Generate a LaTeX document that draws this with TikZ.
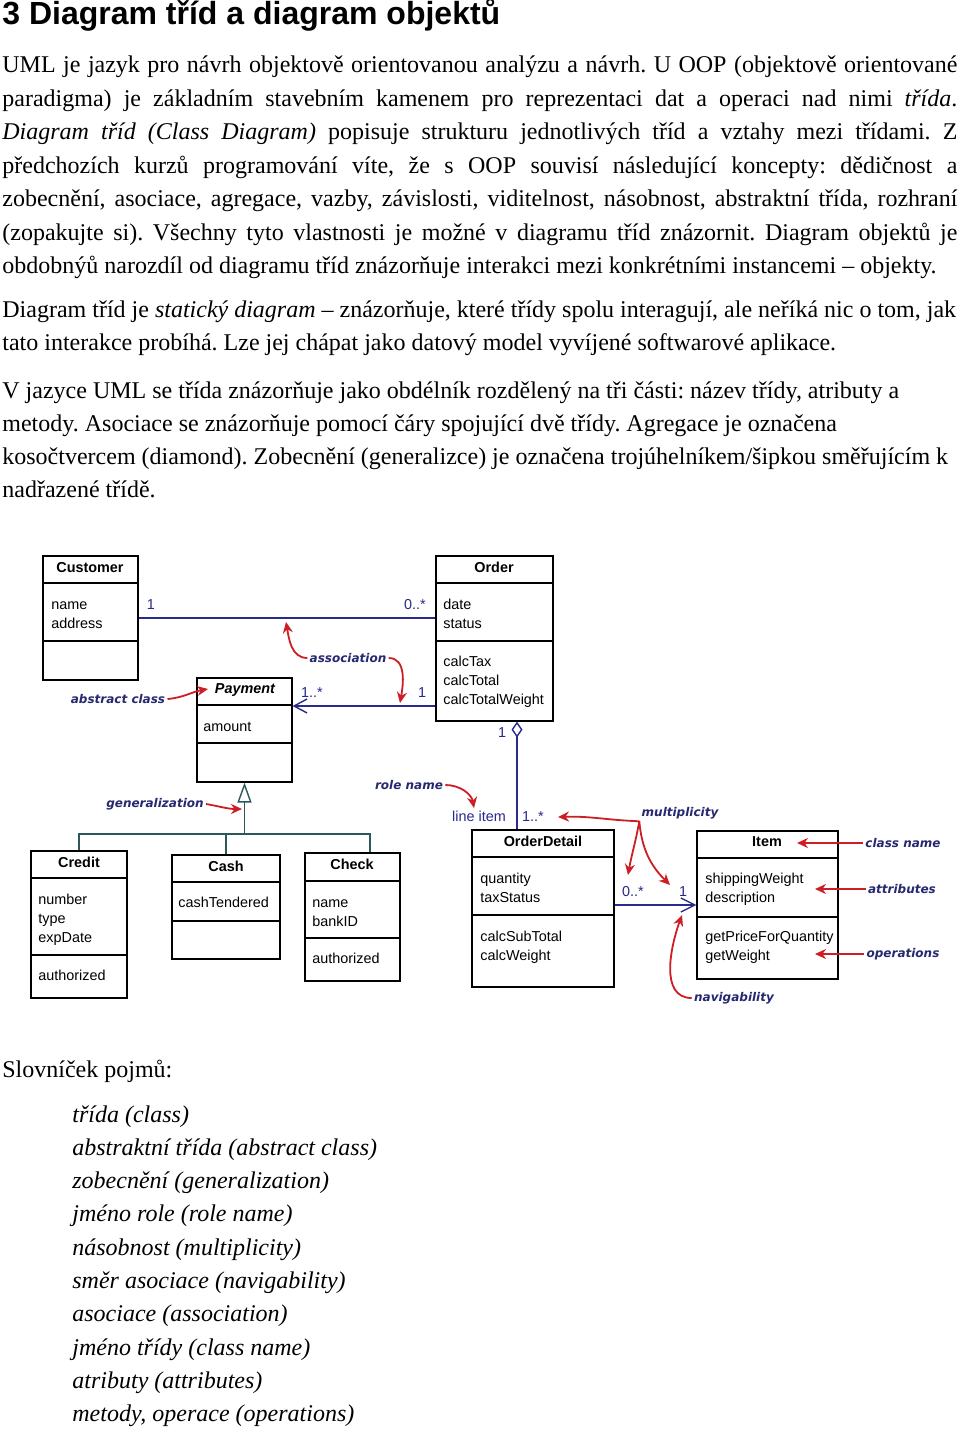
\documentclass[tikz,border=0pt]{standalone}
\usepackage{fontspec}
\setmainfont{Liberation Serif}
\newfontfamily\umlfont{Liberation Sans}
\newfontfamily\notefont{DejaVu Sans}
\usetikzlibrary{arrows.meta,fit}
\frenchspacing

\definecolor{umlblue}{RGB}{40,42,140}
\definecolor{notenavy}{RGB}{38,40,112}
\definecolor{notered}{RGB}{204,30,36}
\definecolor{genteal}{RGB}{45,88,88}

% one justified line of the running text
\newcommand\fullline[1]{\hbox to 477.5pt{#1}}

\tikzset{
  body/.style={font=\fontsize{12}{16.5}\selectfont, anchor=base west, inner sep=0pt},
  gloss/.style={body, font=\fontsize{12}{16.5}\selectfont\itshape},
  classbox/.style={draw, line width=0.6pt, inner sep=0pt},
  boxline/.style={line width=0.6pt},
  member/.style={font=\umlfont\fontsize{7.2}{9}\selectfont, anchor=base west, inner sep=0pt},
  classname/.style={font=\umlfont\bfseries\fontsize{7.2}{9}\selectfont, anchor=base, inner sep=0pt},
  mult/.style={member, anchor=base, text=umlblue},
  note/.style={font=\notefont\bfseries\itshape\fontsize{6}{7}\selectfont, text=notenavy, inner sep=1pt},
  notearrow/.style={draw=notered, line width=0.9pt, -{Stealth[length=5.5pt,width=5pt]}},
  assoc/.style={draw=umlblue, line width=0.7pt},
  genline/.style={draw=genteal, line width=0.7pt}
}

\begin{document}
\begin{tikzpicture}[x=0.5pt,y=-0.5pt]
\fill[white] (0,0) rectangle (960,1429);
\useasboundingbox (0,0) rectangle (960,1429);

% heading and text
\node[anchor=base west, inner sep=0pt, font=\umlfont\bfseries\fontsize{16}{19}\selectfont] (title) at (2,25) {3 Diagram tříd a diagram objektů};
\node[body] (p1-1) at (2,73) {\fullline{UML je jazyk pro návrh objektově orientovanou analýzu a návrh. U OOP (objektově orientované}};
\node[body] (p1-2) at (2,106) {\fullline{paradigma) je základním stavebním kamenem pro reprezentaci dat a operaci nad nimi \textit{třída}.}};
\node[body] (p1-3) at (2,140) {\fullline{\textit{Diagram tříd (Class Diagram)} popisuje strukturu jednotlivých tříd a vztahy mezi třídami. Z}};
\node[body] (p1-4) at (2,173) {\fullline{předchozích kurzů programování víte, že s OOP souvisí následující koncepty: dědičnost a}};
\node[body] (p1-5) at (2,206) {\fullline{zobecnění, asociace, agregace, vazby, závislosti, viditelnost, násobnost, abstraktní třída, rozhraní}};
\node[body] (p1-6) at (2,240) {\fullline{(zopakujte si). Všechny tyto vlastnosti je možné v diagramu tříd znázornit. Diagram objektů je}};
\node[body] (p1-7) at (2,273) {obdobnýů narozdíl od diagramu tříd znázorňuje interakci mezi konkrétními instancemi – objekty.};
\node[body] (p2-1) at (2,317) {Diagram tříd je \textit{statický diagram} – znázorňuje, které třídy spolu interagují, ale neříká nic o tom, jak};
\node[body] (p2-2) at (2,350) {tato interakce probíhá. Lze jej chápat jako datový model vyvíjené softwarové aplikace.};
\node[body] (p3-1) at (2,398) {V jazyce UML se třída znázorňuje jako obdélník rozdělený na tři části: název třídy, atributy a};
\node[body] (p3-2) at (2,431) {metody. Asociace se znázorňuje pomocí čáry spojující dvě třídy. Agregace je označena};
\node[body] (p3-3) at (2,464) {kosočtvercem (diamond). Zobecnění (generalizce) je označena trojúhelníkem/šipkou směřujícím k};
\node[body] (p3-4) at (2,497) {nadřazené třídě.};

% classes
\node[classbox, fit={(43,556) (138,680)}] (customer) {};
\draw[boxline] (customer.west |- 0,583) -- (customer.east |- 0,583);
\draw[boxline] (customer.west |- 0,641) -- (customer.east |- 0,641);
\node[classname] (customer-title) at (90,572) {Customer};
\node[member] (customer-name) at (51,609) {name};
\node[member] (customer-address) at (51,628) {address};

\node[classbox, fit={(436,556) (553,721)}] (order) {};
\draw[boxline] (order.west |- 0,583) -- (order.east |- 0,583);
\draw[boxline] (order.west |- 0,641) -- (order.east |- 0,641);
\node[classname] (order-title) at (494,572) {Order};
\node[member] (order-date) at (443,609) {date};
\node[member] (order-status) at (443,628) {status};
\node[member] (order-tax) at (443,666) {calcTax};
\node[member] (order-total) at (443,685) {calcTotal};
\node[member] (order-weight) at (443,704) {calcTotalWeight};

\node[classbox, fit={(197,678) (292,782)}] (payment) {};
\draw[boxline] (payment.west |- 0,705) -- (payment.east |- 0,705);
\draw[boxline] (payment.west |- 0,743) -- (payment.east |- 0,743);
\node[classname, font=\umlfont\bfseries\itshape\fontsize{7.2}{9}\selectfont] (payment-title) at (245,693) {Payment};
\node[member] (payment-amount) at (203,731) {amount};

\node[classbox, fit={(31,851) (127,998)}] (credit) {};
\draw[boxline] (credit.west |- 0,878) -- (credit.east |- 0,878);
\draw[boxline] (credit.west |- 0,955) -- (credit.east |- 0,955);
\node[classname] (credit-title) at (79,867) {Credit};
\node[member] (credit-number) at (38,904) {number};
\node[member] (credit-type) at (38,923) {type};
\node[member] (credit-date) at (38,942) {expDate};
\node[member] (credit-auth) at (38,980) {authorized};

\node[classbox, fit={(172,855) (280,959)}] (cash) {};
\draw[boxline] (cash.west |- 0,882) -- (cash.east |- 0,882);
\draw[boxline] (cash.west |- 0,921) -- (cash.east |- 0,921);
\node[classname] (cash-title) at (226,871) {Cash};
\node[member] (cash-tendered) at (178,907) {cashTendered};

\node[classbox, fit={(305,853) (400,981)}] (check) {};
\draw[boxline] (check.west |- 0,881) -- (check.east |- 0,881);
\draw[boxline] (check.west |- 0,938) -- (check.east |- 0,938);
\node[classname] (check-title) at (352,869) {Check};
\node[member] (check-name) at (312,907) {name};
\node[member] (check-bank) at (312,926) {bankID};
\node[member] (check-auth) at (312,963) {authorized};

\node[classbox, fit={(472,830) (614,987)}] (orderdetail) {};
\draw[boxline] (orderdetail.west |- 0,857) -- (orderdetail.east |- 0,857);
\draw[boxline] (orderdetail.west |- 0,915) -- (orderdetail.east |- 0,915);
\node[classname] (orderdetail-title) at (543,846) {OrderDetail};
\node[member] (orderdetail-qty) at (480,883) {quantity};
\node[member] (orderdetail-tax) at (480,902) {taxStatus};
\node[member] (orderdetail-sub) at (480,941) {calcSubTotal};
\node[member] (orderdetail-weight) at (480,960) {calcWeight};

\node[classbox, fit={(697,831) (838,979)}] (item) {};
\draw[boxline] (item.west |- 0,858) -- (item.east |- 0,858);
\draw[boxline] (item.west |- 0,917) -- (item.east |- 0,917);
\node[classname] (item-title) at (767,846) {Item};
\node[member] (item-ship) at (705,883) {shippingWeight};
\node[member] (item-desc) at (705,902) {description};
\node[member] (item-price) at (705,941) {getPriceForQuantity};
\node[member] (item-weight) at (705,960) {getWeight};

% associations
\coordinate (payorder) at (0,706);
\coordinate (agg) at (517,0);
\draw[assoc] (customer.east) -- (order.west |- customer.east);
\draw[assoc, -{Straight Barb[length=6.5pt,width=7pt]}] (order.west |- payorder) -- (payment.east |- payorder);
\draw[assoc, {Diamond[open,length=8pt,width=5.5pt]}-] (order.south -| agg) -- (orderdetail.north -| agg);
\draw[assoc, -{Straight Barb[length=7pt,width=7pt]}] (orderdetail.east |- item.west) -- (item.west);

% generalization
\coordinate (gjoin) at (payment.south |- 0,834);
\coordinate (checkjoin) at (370,834);
\draw[genline, -{Triangle[open,length=10pt,width=7pt]}] (gjoin) -- (payment.south);
\draw[genline] (credit.north) -- (credit.north |- gjoin) -- (checkjoin) -- (check.north -| checkjoin);
\draw[genline] (cash.north) -- (cash.north |- gjoin);

% multiplicities and role
\node[mult] (m-customer) at (151,609) {1};
\node[mult] (m-order) at (415,609) {0..*};
\node[mult] (m-payment) at (312,697) {1..*};
\node[mult] (m-order2) at (422,697) {1};
\node[mult] (m-agg) at (502,737) {1};
\node[mult] (role) at (479,821) {line item};
\node[mult] (m-detail) at (533,821) {1..*};
\node[mult] (m-detail2) at (633,896) {0..*};
\node[mult] (m-item) at (683,896) {1};

% notes
\node[note] (n-assoc) at (348,658) {association};
\node[note] (n-abstract) at (118,699) {abstract class};
\node[note] (n-general) at (155,804) {generalization};
\node[note] (n-role) at (409,785) {role name};
\node[note] (n-mult) at (680,813) {multiplicity};
\node[note] (n-classname) at (903,843) {class name};
\node[note] (n-attr) at (902,889) {attributes};
\node[note] (n-oper) at (903,954) {operations};
\node[note] (n-nav) at (734,998) {navigability};

\coordinate (t-assoc1) at (286,622);
\coordinate (t-assoc2) at (400,703);
\coordinate (t-abstract) at (208,689);
\coordinate (t-general) at (242,809);
\coordinate (t-role) at (474,808);
\coordinate (t-mult1) at (558,817);
\coordinate (t-mult2) at (628,875);
\coordinate (t-mult3) at (670,885);
\coordinate (t-classname) at (797,843);
\coordinate (t-attr) at (815,889);
\coordinate (t-oper) at (815,954);
\coordinate (t-nav) at (682,915);

\draw[notearrow] (n-assoc.west) to[out=180,in=-80] (t-assoc1);
\draw[notearrow] (n-assoc.east) to[out=0,in=80] (t-assoc2);
\draw[notearrow] (n-abstract.east) to[out=5,in=190] (t-abstract);
\draw[notearrow] (n-general.east) to[out=-10,in=180] (t-general);
\draw[notearrow] (n-role.east) to[out=0,in=100] (t-role);
\draw[notearrow] (n-mult.south west) to[out=178,in=2] (t-mult1);
\draw[notearrow] (n-mult.south west) to[out=-100,in=80] (t-mult2);
\draw[notearrow] (n-mult.south west) to[out=-85,in=135] (t-mult3);
\draw[notearrow] (n-classname.west) -- (t-classname);
\draw[notearrow] (n-attr.west) -- (t-attr);
\draw[notearrow] (n-oper.west) -- (t-oper);
\draw[notearrow] (n-nav.west) to[out=180,in=-110] (t-nav);

% glossary
\node[body] (glossary) at (2,1077) {Slovníček pojmů:};
\foreach \term [count=\i] in {třída (class), abstraktní třída (abstract class), zobecnění (generalization), jméno role (role name), násobnost (multiplicity), směr asociace (navigability), asociace (association), jméno třídy (class name), atributy (attributes), {metody, operace (operations)}}
  \node[gloss] (term-\i) at (72,1122+33.3*\i-33.3) {\term};
\end{tikzpicture}
\end{document}
